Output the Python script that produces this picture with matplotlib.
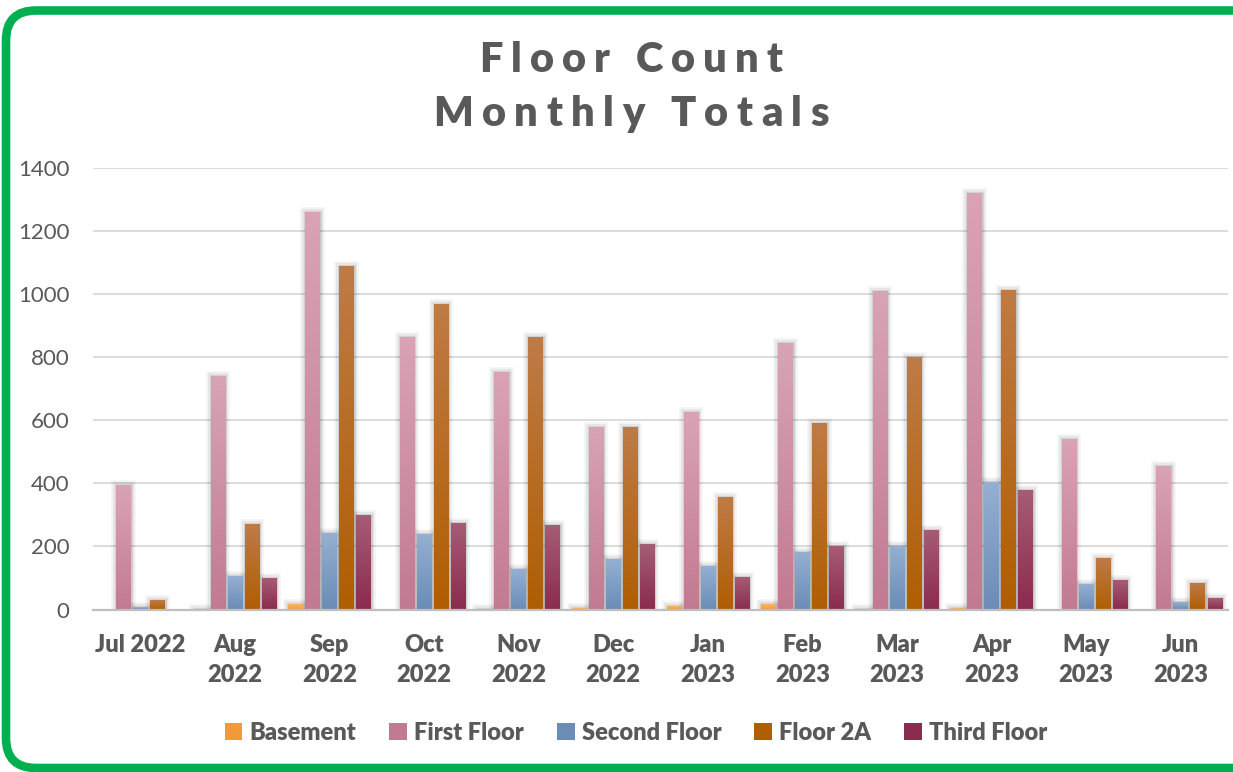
import matplotlib
matplotlib.use("Agg")
import matplotlib.pyplot as plt
import matplotlib.patheffects as pe
import numpy as np
from matplotlib.colors import LinearSegmentedColormap
from matplotlib.font_manager import FontProperties
from matplotlib.patches import FancyBboxPatch, Patch
from matplotlib.transforms import IdentityTransform

MONTHS = ["Jul 2022", "Aug\n2022", "Sep\n2022", "Oct\n2022", "Nov\n2022", "Dec\n2022",
          "Jan\n2023", "Feb\n2023", "Mar\n2023", "Apr\n2023", "May\n2023", "Jun\n2023"]
SERIES = ["Basement", "First Floor", "Second Floor", "Floor 2A", "Third Floor"]
BASEMENT = [0, 3, 17, 0, 2, 5, 10, 16, 3, 5, 0, 0]
FIRST_FLOOR = [395, 740, 1259, 863, 752, 578, 626, 844, 1009, 1322, 540, 455]
SECOND_FLOOR = [8, 105, 243, 240, 130, 160, 138, 182, 202, 405, 82, 24]
FLOOR_2A = [30, 271, 1088, 968, 863, 578, 357, 592, 800, 1012, 163, 84]
THIRD_FLOOR = [0, 100, 300, 275, 268, 208, 103, 200, 253, 380, 93, 36]
Y_TICKS = [0, 200, 400, 600, 800, 1000, 1200, 1400]

# (light top, dark bottom) for the Excel-style gradient fill
COLORS = [("#FAB766", "#F29A38"), ("#D9A3B5", "#C17A92"), ("#94AFD1", "#6B8CB7"),
          ("#BF7B46", "#B05E02"), ("#A55C75", "#8B2B4F")]
TEXT = "#595959"
GREEN = "#00B050"
FAMILY = ["Lato", "DejaVu Sans"]
HEAVY = "heavy"

plt.rcParams["font.family"] = FAMILY

W, H = 1233, 772
fig = plt.figure(figsize=(W / 100, H / 100), dpi=100)
fig.patch.set_facecolor("white")

# rounded green frame (runs off the right edge like the screenshot)
frame = FancyBboxPatch((6, 4), W + 60, 757.5, boxstyle="round,pad=0,rounding_size=30",
                       transform=IdentityTransform(), fill=False, edgecolor=GREEN,
                       linewidth=6.2)
fig.patches.append(frame)

ax = fig.add_axes([93 / W, 1 - 609.5 / H, (1228 - 93) / W, (609.5 - 168) / H])
x = np.arange(len(MONTHS))
pitch, width = 0.18, 0.153
values = [BASEMENT, FIRST_FLOOR, SECOND_FLOOR, FLOOR_2A, THIRD_FLOOR]
grad = np.linspace(0, 1, 64).reshape(-1, 1)
shadow = [pe.Stroke(linewidth=7, foreground="#000000", alpha=0.04),
          pe.Stroke(linewidth=4.5, foreground="#000000", alpha=0.06),
          pe.Stroke(linewidth=2, foreground="#000000", alpha=0.1), pe.Normal()]

for i, (name, vals, (light, dark)) in enumerate(zip(SERIES, values, COLORS)):
    bars = ax.bar(x + (i - 2) * pitch, vals, width, color=dark, linewidth=0, zorder=3)
    cmap = LinearSegmentedColormap.from_list(name, [dark, light])
    for rect in bars:
        h = rect.get_height()
        if h <= 0:
            continue
        rect.set_path_effects(shadow)
        x0, y0 = rect.get_xy()
        im = ax.imshow(grad, extent=(x0, x0 + rect.get_width(), y0, y0 + h), origin="lower",
                       cmap=cmap, aspect="auto", zorder=3.5, interpolation="bilinear")
        im.set_clip_path(rect)

ax.set_xlim(-0.5, len(MONTHS) - 0.5)
ax.set_ylim(0, 1400)
ax.set_aspect("auto")
ax.set_yticks(Y_TICKS)
ax.set_xticks(x)
ax.set_xticklabels(MONTHS, fontsize=17, fontweight=HEAVY, color=TEXT, linespacing=1.42)
ax.tick_params(axis="x", length=0, pad=18)
ax.tick_params(axis="y", length=0, pad=17, labelsize=16, labelcolor=TEXT)
ax.yaxis.grid(True, color="#D9D9D9", linewidth=1.3, zorder=0)
ax.set_axisbelow(True)
for side in ("top", "right", "left"):
    ax.spines[side].set_visible(False)
ax.spines["bottom"].set_color("#BFBFBF")
ax.spines["bottom"].set_linewidth(1.6)
ax.spines["bottom"].set_zorder(4)


def spaced_text(fig, text, cx, base_y, size, width_px):
    # letter-spaced bold title, placed in pixels
    r = fig.canvas.get_renderer()
    fp = FontProperties(family=FAMILY, weight=HEAVY, size=size)
    bar_w = r.get_text_width_height_descent("|", fp, ismath=False)[0]
    full = r.get_text_width_height_descent(text, fp, ismath=False)[0]
    track = (width_px - full) / (len(text) - 1)
    left = cx - width_px / 2
    for k, ch in enumerate(text):
        off = 0 if k == 0 else r.get_text_width_height_descent(text[:k] + "|", fp, ismath=False)[0] - bar_w
        fig.text(left + off + k * track, base_y, ch, transform=IdentityTransform(),
                 fontproperties=fp, color=TEXT, ha="left", va="baseline")


spaced_text(fig, "Floor Count", 631, H - 72, 30, 303)
spaced_text(fig, "Monthly Totals", 631, H - 126, 30, 395)

handles = [Patch(facecolor=c[1], edgecolor="none") for c in COLORS]
fig.legend(handles, SERIES, loc="center", bbox_to_anchor=(636 / W, 1 - 733 / H), ncol=5,
           frameon=False, prop={"family": FAMILY, "weight": HEAVY, "size": 17},
           labelcolor=TEXT, handlelength=0.75, handleheight=0.75, handletextpad=0.3,
           columnspacing=1.4)

fig.savefig("out.png", dpi=100)
